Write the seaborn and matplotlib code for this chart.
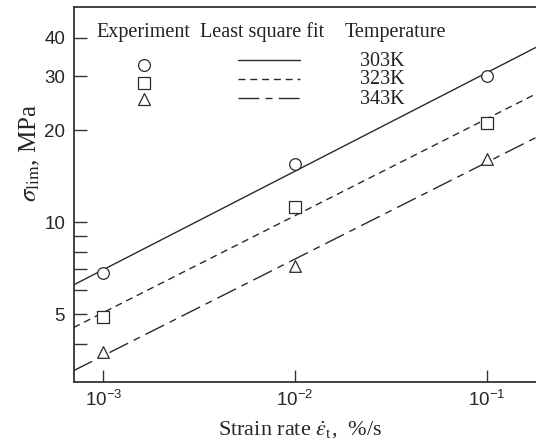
import numpy as np
import pandas as pd
import matplotlib
matplotlib.use("Agg")
import matplotlib.pyplot as plt
from matplotlib.lines import Line2D
from matplotlib.ticker import FixedLocator, NullFormatter, FixedFormatter
import seaborn as sns

# ---- data ----
strain_rate = [1e-3, 1e-2, 1e-1]
temperatures = ["303K", "323K", "343K"]
sigma_303 = [6.8, 15.5, 30.0]
sigma_323 = [4.9, 11.2, 21.1]
sigma_343 = [3.75, 7.2, 16.1]
y_ticks = [5, 10, 20, 30, 40]
y_minor = [4, 6, 7, 8, 9]
x_ticks = [1e-3, 1e-2, 1e-1]
x_ticklabels = [r"$\mathregular{10^{-3}}$", r"$\mathregular{10^{-2}}$", r"$\mathregular{10^{-1}}$"]

sns.set_style("ticks")
plt.rcParams["font.family"] = ["Liberation Serif", "DejaVu Serif"]
plt.rcParams["mathtext.fontset"] = "stix"

fig = plt.figure(figsize=(5.36, 4.44), dpi=100)
ax = fig.add_axes([73.5 / 536, 1 - 382 / 444, (536 - 73.5) / 536, (382 - 7) / 444])

XMIN, XMAX = 7.0e-4, 0.18
YMIN, YMAX = 3.0, 50.5

series = [sigma_303, sigma_323, sigma_343]
markers = ["o", "s", "^"]
dashes = [None, (5, 3.5), (15, 4.5, 5, 4.5)]

rows = []
for t, s in zip(temperatures, series):
    for x, y in zip(strain_rate, s):
        rows.append({"rate": x, "sigma": y, "T": t})
df = pd.DataFrame(rows)

xfit = np.logspace(np.log10(XMIN), np.log10(XMAX), 50)
for t, s, m, d in zip(temperatures, series, markers, dashes):
    coef = np.polyfit(np.log10(strain_rate), np.log10(s), 1)
    yfit = 10 ** np.polyval(coef, np.log10(xfit))
    sns.lineplot(x=xfit, y=yfit, ax=ax, color="#2a2a2a", lw=1.0)
    ln = ax.get_lines()[-1]
    if d is not None:
        ln.set_dashes(d)
    sub = df[df["T"] == t]
    sns.scatterplot(data=sub, x="rate", y="sigma", ax=ax, marker=m, s=70,
                    facecolor="white", edgecolor="#2a2a2a", linewidth=0.9, zorder=5)

ax.set_xscale("log")
ax.set_yscale("log")
ax.set_xlim(XMIN, XMAX)
ax.set_ylim(YMIN, YMAX)

ax.yaxis.set_major_locator(FixedLocator(y_ticks))
ax.yaxis.set_major_formatter(FixedFormatter([str(v) for v in y_ticks]))
ax.yaxis.set_minor_locator(FixedLocator(y_minor))
ax.yaxis.set_minor_formatter(NullFormatter())
ax.xaxis.set_major_locator(FixedLocator(x_ticks))
ax.xaxis.set_major_formatter(FixedFormatter(x_ticklabels))
ax.xaxis.set_minor_locator(FixedLocator([]))

ax.tick_params(axis="both", which="major", direction="in", length=9, width=1.0,
               color="#333333", labelsize=13.5, pad=6)
ax.tick_params(axis="y", which="minor", direction="in", length=9, width=1.0, color="#333333")
for lab in ax.get_yticklabels() + ax.get_xticklabels():
    lab.set_family(["Liberation Sans", "DejaVu Sans"])

for side in ["left", "bottom", "top"]:
    ax.spines[side].set_linewidth(1.3)
    ax.spines[side].set_color("#333333")
ax.spines["right"].set_visible(False)

W = 536 - 73.5
H = 382 - 7
def ax_xy(px, py):
    return ((px - 73.5) / W, 1 - (py - 7) / H)

ax.set_ylabel(r"$\sigma_{\mathrm{lim}}$, MPa", fontsize=18)
ax.yaxis.set_label_coords(*ax_xy(30, 153))
ax.set_xlabel(r"Strain rate $\dot{\varepsilon}_{\mathrm{t}}$,  %/s", fontsize=16)
ax.xaxis.set_label_coords(*ax_xy(300, 430))
ax.xaxis.label.set_va("center")
ax.yaxis.label.set_va("center")

# ---- legend table ----
tkw = dict(transform=ax.transAxes, fontsize=14.5, color="#222222", va="center", ha="center")
ax.text(*ax_xy(143.5, 32), "Experiment", **tkw)
ax.text(*ax_xy(262, 32), "Least square fit", **tkw)
ax.text(*ax_xy(395, 32), "Temperature", **tkw)
row_y = [61, 80, 99]
mark_y = [65, 83, 99]
for t, m, d, ry, my in zip(temperatures, markers, dashes, row_y, mark_y):
    ax.text(*ax_xy(382, ry), t, **tkw)
    mx, myy = ax_xy(144, my)
    ax.add_line(Line2D([mx], [myy], marker=m, markersize=8.5, markerfacecolor="white",
                       markeredgecolor="#2a2a2a", markeredgewidth=0.9, linestyle="none",
                       transform=ax.transAxes))
    x0, yy = ax_xy(238, ry - 1)
    x1, _ = ax_xy(300, ry - 1)
    l = Line2D([x0, x1], [yy, yy], color="#2a2a2a", lw=1.0, transform=ax.transAxes)
    if d is not None:
        l.set_dashes(d)
    ax.add_line(l)

fig.savefig("out.png", dpi=100)
